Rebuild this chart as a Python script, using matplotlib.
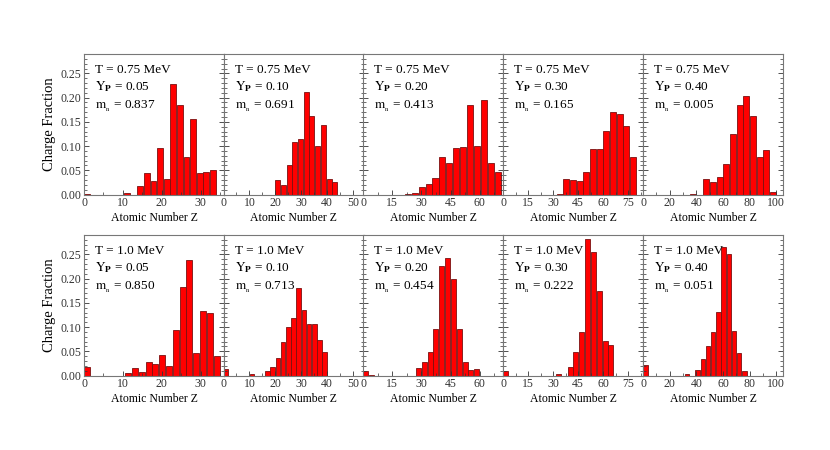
import numpy as np
import matplotlib
matplotlib.use('Agg')
import matplotlib.pyplot as plt
from matplotlib.ticker import MultipleLocator, AutoMinorLocator

plt.rcParams['font.family'] = ['Liberation Serif', 'DejaVu Serif']
plt.rcParams['mathtext.fontset'] = 'stix'

# Charge fractions per bin (20 bins from Z=0 to Zmax)
temps = ['0.75', '1.0']
yps = ['0.05', '0.10', '0.20', '0.30', '0.40']
mn = [['0.837', '0.691', '0.413', '0.165', '0.005'],
      ['0.850', '0.713', '0.454', '0.222', '0.051']]
zmax = [[34, 44, 71, 80, 100],
        [35, 40, 60, 70, 78]]
xlims = [36, 54, 72, 84, 105]
xticks = [10, 10, 15, 15, 20]

frac_075 = [
    [0.001, 0, 0, 0, 0, 0, 0.004, 0, 0.017, 0.044, 0.027, 0.095, 0.032, 0.229, 0.184, 0.078, 0.156, 0.044, 0.046, 0.050],
    [0, 0, 0, 0, 0, 0, 0, 0, 0, 0.030, 0.019, 0.060, 0.108, 0.115, 0.212, 0.162, 0.100, 0.143, 0.032, 0.026],
    [0, 0, 0, 0, 0, 0, 0.002, 0.003, 0.0145, 0.022, 0.035, 0.077, 0.064, 0.097, 0.099, 0.184, 0.100, 0.196, 0.064, 0.046],
    [0, 0, 0, 0, 0, 0, 0, 0, 0.002, 0.031, 0.029, 0.027, 0.046, 0.093, 0.093, 0.131, 0.170, 0.166, 0.142, 0.077],
    [0, 0, 0, 0, 0, 0, 0, 0.002, 0, 0.031, 0.026, 0.037, 0.062, 0.124, 0.184, 0.204, 0.162, 0.077, 0.091, 0.005],
]
frac_100 = [
    [0.0166, 0, 0, 0, 0, 0, 0.006, 0.016, 0.0076, 0.027, 0.023, 0.042, 0.019, 0.093, 0.182, 0.238, 0.047, 0.134, 0.129, 0.041],
    [0.0138, 0, 0, 0, 0, 0.0035, 0, 0, 0.0083, 0.0166, 0.036, 0.070, 0.101, 0.119, 0.181, 0.136, 0.106, 0.106, 0.074, 0.048],
    [0.0097, 0.0014, 0, 0, 0, 0, 0, 0, 0, 0.015, 0.027, 0.049, 0.097, 0.2265, 0.242, 0.199, 0.097, 0.027, 0.0117, 0.0124],
    [0.0097, 0, 0, 0, 0, 0, 0, 0, 0, 0.0035, 0, 0.0173, 0.048, 0.090, 0.281, 0.254, 0.175, 0.071, 0.063, 0],
    [0.0214, 0, 0, 0, 0, 0, 0, 0, 0.0028, 0, 0.011, 0.034, 0.060, 0.090, 0.131, 0.265, 0.251, 0.0925, 0.047, 0.0083],
]
fracs = [frac_075, frac_100]

fig = plt.figure(figsize=(8.3, 4.5), dpi=100)

lefts = [84, 223.5, 363, 503, 643]
tops = [54, 235]
w_px, h_px = 140, 140.5

for row in range(2):
    for col in range(5):
        ax = fig.add_axes([lefts[col] / 830, 1 - (tops[row] + h_px) / 450, w_px / 830, h_px / 450])
        vals = np.array(fracs[row][col])
        bw = zmax[row][col] / len(vals)
        centers = (np.arange(len(vals)) + 0.5) * bw
        ax.bar(centers, vals, width=bw * 0.88, color='#ff0000', edgecolor='#7a1010', linewidth=0.6)

        ax.set_xlim(0, xlims[col])
        ax.set_ylim(0, 0.29)
        ax.xaxis.set_major_locator(MultipleLocator(xticks[col]))
        ax.xaxis.set_minor_locator(AutoMinorLocator(2))
        ax.yaxis.set_major_locator(MultipleLocator(0.05))
        ax.yaxis.set_minor_locator(MultipleLocator(0.01))
        ax.tick_params(which='both', direction='in', right=True, top=False, labelsize=8.5, pad=2, colors='#333333')
        ax.tick_params(which='major', length=3.5, width=0.6)
        ax.tick_params(which='minor', length=2, width=0.5)
        for sp in ax.spines.values():
            sp.set_color('#777777')
            sp.set_linewidth(0.8)

        if col == 0:
            ax.yaxis.set_major_formatter(matplotlib.ticker.FormatStrFormatter('%.2f'))
            ax.set_ylabel('Charge Fraction', fontsize=10.5, labelpad=3)
        else:
            ax.set_yticklabels([])
        ax.set_xlabel('Atomic Number Z', fontsize=8.5, labelpad=2)

        ax.text(0.08, 0.884, 'T = %s MeV' % temps[row], transform=ax.transAxes, fontsize=9.5, va='center')
        ax.text(0.08, 0.766, r'$\mathrm{Y_{\mathbf{P}}}$ = ' + yps[col], transform=ax.transAxes, fontsize=9.5, va='center')
        ax.text(0.08, 0.624, r'$\mathrm{m_{_n}}$ = ' + mn[row][col], transform=ax.transAxes, fontsize=9.5, va='center')

fig.savefig('out.png', dpi=100)
